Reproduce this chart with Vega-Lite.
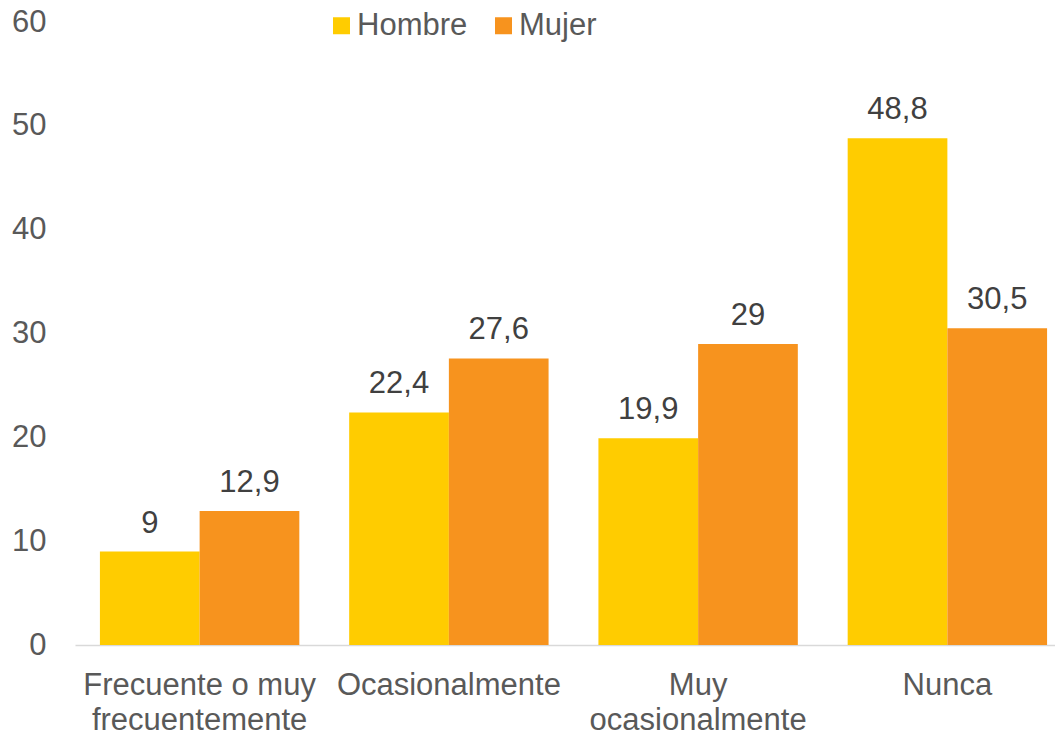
{
  "$schema": "https://vega.github.io/schema/vega-lite/v6.json",
  "autosize": {"type": "none"},
  "padding": {"left": 75, "top": 22, "right": 0, "bottom": 88},
  "width": 980,
  "height": 623,
  "background": "white",
  "config": {
    "view": {"stroke": null},
    "font": "Liberation Sans",
    "locale": {"number": {"decimal": ",", "thousands": ".", "grouping": [3], "currency": ["", " €"]}}
  },
  "data": {
    "values": [
      {"categoria": "Frecuente o muy frecuentemente", "sexo": "Hombre", "valor": 9},
      {"categoria": "Frecuente o muy frecuentemente", "sexo": "Mujer", "valor": 12.9},
      {"categoria": "Ocasionalmente", "sexo": "Hombre", "valor": 22.4},
      {"categoria": "Ocasionalmente", "sexo": "Mujer", "valor": 27.6},
      {"categoria": "Muy ocasionalmente", "sexo": "Hombre", "valor": 19.9},
      {"categoria": "Muy ocasionalmente", "sexo": "Mujer", "valor": 29},
      {"categoria": "Nunca", "sexo": "Hombre", "valor": 48.8},
      {"categoria": "Nunca", "sexo": "Mujer", "valor": 30.5}
    ]
  },
  "encoding": {
    "x": {
      "field": "categoria", "type": "nominal", "sort": null,
      "scale": {"paddingInner": 0.2, "paddingOuter": 0.1, "range": [0, 997]},
      "axis": {
        "title": null, "labelAngle": 0, "ticks": false,
        "domainColor": "#d9d9d9", "domainWidth": 1.5,
        "labelFont": "Liberation Sans", "labelFontSize": 31, "labelColor": "#595959",
        "labelPadding": 25, "labelLineHeight": 35, "labelBaseline": "top", "labelLimit": 400,
        "labelOverlap": false, "labelBound": false,
        "labelExpr": "datum.label == 'Frecuente o muy frecuentemente' ? ['Frecuente o muy', 'frecuentemente'] : datum.label == 'Muy ocasionalmente' ? ['Muy', 'ocasionalmente'] : datum.label"
      }
    },
    "xOffset": {"field": "sexo", "type": "nominal", "scale": {"paddingInner": 0, "paddingOuter": 0}},
    "y": {
      "field": "valor", "type": "quantitative",
      "scale": {"domain": [0, 60], "nice": false},
      "axis": {
        "title": null, "values": [0, 10, 20, 30, 40, 50, 60], "grid": false, "domain": false, "ticks": false,
        "labelFont": "Liberation Sans", "labelFontSize": 31, "labelColor": "#595959", "labelPadding": 29
      }
    }
  },
  "layer": [
    {
      "mark": {"type": "bar"},
      "encoding": {
        "color": {
          "field": "sexo", "type": "nominal",
          "scale": {"domain": ["Hombre", "Mujer"], "range": ["#FFCC00", "#F7931E"]},
          "legend": {
            "title": null, "orient": "none", "direction": "horizontal",
            "legendX": 251, "legendY": -12,
            "symbolType": "square", "symbolSize": 289, "symbolStrokeWidth": 0,
            "labelFont": "Liberation Sans", "labelFontSize": 31, "labelColor": "#595959",
            "labelOffset": 0, "columnPadding": 20
          }
        }
      }
    },
    {
      "mark": {"type": "text", "baseline": "alphabetic", "dy": -19, "font": "Liberation Sans", "fontSize": 31, "color": "#404040"},
      "encoding": {
        "text": {"field": "valor", "type": "quantitative", "format": ".3~r"}
      }
    }
  ]
}
